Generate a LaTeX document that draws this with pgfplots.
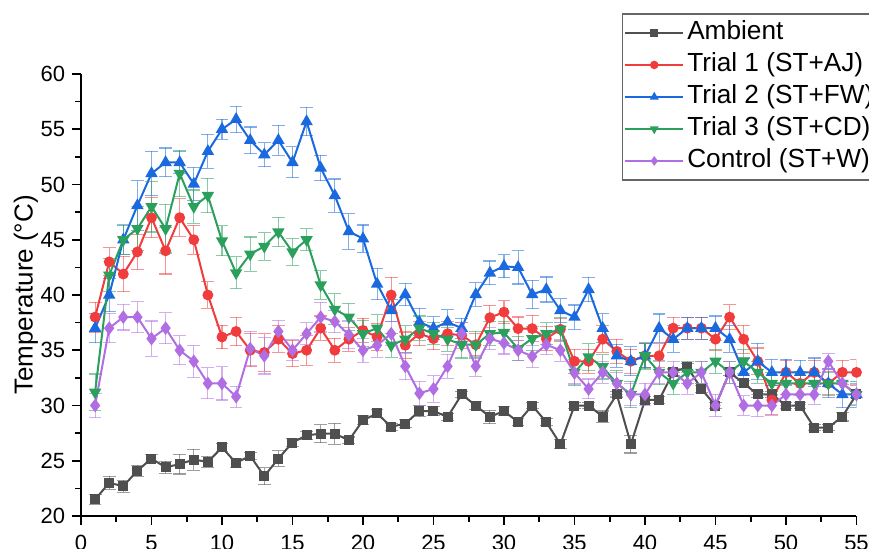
\documentclass[border=0pt]{standalone}
\usepackage{pgfplots}
\usepackage{pgfplotstable}
\pgfplotsset{compat=1.18}
\usepackage{fontspec}
\setmainfont{Liberation Sans}
\definecolor{cAmb}{HTML}{4F4F4F}
\definecolor{cRed}{HTML}{F03C3C}
\definecolor{cBlue}{HTML}{1A69DE}
\definecolor{cGreen}{HTML}{2AA05C}
\definecolor{cPurp}{HTML}{B06EE2}

\pgfplotstableread{
x y e
1 21.5 0.45
2 23.0 0.6
3 22.7 0.55
4 24.1 0.5
5 25.2 0.35
6 24.4 0.55
7 24.7 0.9
8 25.1 0.95
9 24.9 0.5
10 26.2 0.4
11 24.8 0.4
12 25.45 0.3
13 23.6 0.75
14 25.2 0.7
15 26.65 0.4
16 27.3 0.35
17 27.45 0.8
18 27.45 0.95
19 26.85 0.3
20 28.67 0.4
21 29.28 0.35
22 28.07 0.3
23 28.37 0.4
24 29.5 0.5
25 29.5 0.4
26 28.97 0.3
27 31.0 0.3
28 30.0 0.4
29 28.97 0.6
30 29.5 0.4
31 28.5 0.3
32 30.0 0.3
33 28.5 0.3
34 26.5 0.4
35 30.0 0.3
36 30.0 0.3
37 29.0 0.5
38 31.0 0.3
39 26.5 0.8
40 30.5 0.3
41 30.5 0.3
42 33.0 0.3
43 33.5 0.3
44 31.5 0.3
45 30.0 0.3
46 33.0 0.3
47 32.0 0.3
48 31.0 0.3
49 31.0 0.3
50 30.0 0.3
51 30.0 0.3
52 28.0 0.3
53 28.0 0.3
54 29.0 0.4
55 31.0 0.3
}\tAmb

\pgfplotstableread{
x y e
1 38.0 1.35
2 43.0 1.27
3 41.9 1.6
4 43.9 1.6
5 47.0 1.8
6 44.0 2.1
7 47.0 1.7
8 45.0 1.3
9 40.0 1.2
10 36.2 1.05
11 36.7 1.3
12 35.0 1.5
13 34.8 1.7
14 36.0 1.2
15 34.7 1.2
16 35.0 1.35
17 37.0 1.1
18 35.0 1.1
19 36.0 1.1
20 36.8 1.1
21 36.2 1.2
22 40.0 1.6
23 35.45 1.2
24 36.5 1.1
25 36.05 1.0
26 36.5 1.1
27 36.35 1.2
28 35.5 1.0
29 37.95 1.13
30 38.45 1.05
31 36.96 1.05
32 36.96 1.2
33 36.05 1.1
34 36.9 1.0
35 34.0 1.1
36 34.0 1.1
37 36.0 1.2
38 34.9 1.1
39 34.0 1.1
40 34.5 1.1
41 34.5 1.1
42 37.0 1.0
43 37.0 1.0
44 37.0 1.0
45 36.0 1.0
46 38.0 1.14
47 36.0 1.28
48 34.0 1.2
49 30.5 1.28
50 33.0 1.1
51 32.0 1.1
52 33.0 1.1
53 32.0 1.1
54 33.0 1.1
55 33.0 1.16
}\tRed

\pgfplotstableread{
x y e
1 37.0 1.3
2 40.0 1.5
3 45.0 1.3
4 48.1 2.25
5 51.0 2.0
6 52.0 1.3
7 52.0 1.0
8 50.05 1.5
9 53.0 1.55
10 55.0 0.9
11 55.9 1.2
12 54.0 1.2
13 52.7 1.1
14 54.0 1.35
15 52.0 1.4
16 55.7 1.3
17 51.5 1.15
18 49.0 1.5
19 45.75 1.6
20 45.1 1.24
21 41.0 1.43
22 38.6 1.0
23 40.05 1.0
24 37.55 1.24
25 37.0 1.05
26 37.55 1.13
27 37.0 0.9
28 40.05 1.05
29 42.0 1.08
30 42.6 1.04
31 42.5 1.5
32 40.05 1.28
33 40.5 1.13
34 38.6 1.05
35 38.0 1.1
36 40.5 1.1
37 37.0 1.3
38 34.5 1.05
39 34.0 1.3
40 34.5 1.1
41 37.0 1.28
42 36.0 1.2
43 37.0 1.0
44 37.0 1.0
45 37.0 1.1
46 36.0 1.2
47 33.0 1.3
48 34.0 1.65
49 33.0 1.2
50 33.0 1.2
51 33.0 1.1
52 33.0 1.3
53 32.0 1.3
54 31.0 1.2
55 31.0 1.2
}\tBlue

\pgfplotstableread{
x y e
1 31.2 1.65
2 41.8 1.5
3 45.0 1.35
4 46.0 2.0
5 48.0 2.3
6 46.0 2.2
7 51.0 2.1
8 48.0 1.5
9 49.0 1.55
10 44.9 1.35
11 42.0 1.45
12 43.7 1.55
13 44.4 1.25
14 45.7 1.35
15 43.9 1.2
16 45.0 1.0
17 40.9 1.3
18 38.7 1.4
19 38.0 1.25
20 36.5 1.2
21 37.0 1.2
22 35.45 1.1
23 36.0 1.2
24 37.0 1.1
25 36.5 1.0
26 36.0 1.1
27 35.5 1.2
28 35.5 1.2
29 36.5 1.1
30 36.6 1.0
31 35.15 1.1
32 36.05 1.1
33 36.5 1.0
34 36.9 1.1
35 33.0 1.2
36 34.4 1.2
37 33.5 1.1
38 32.0 1.2
39 31.0 1.2
40 34.5 1.2
41 33.0 1.1
42 32.0 1.0
43 33.0 1.0
44 33.0 1.0
45 34.0 1.1
46 33.0 1.0
47 34.0 1.1
48 33.0 1.0
49 32.0 1.0
50 32.0 1.0
51 32.0 1.0
52 32.0 1.0
53 32.0 1.0
54 32.0 1.0
55 31.0 1.0
}\tGreen

\pgfplotstableread{
x y e
1 30.0 1.1
2 37.0 1.33
3 38.0 1.17
4 38.0 1.4
5 36.05 1.6
6 37.0 1.4
7 35.0 1.3
8 34.0 1.45
9 32.0 1.4
10 32.0 1.5
11 30.8 0.95
12 35.15 1.55
13 34.5 1.65
14 36.7 1.0
15 35.0 0.95
16 36.5 1.0
17 38.0 1.35
18 37.6 1.0
19 36.4 1.25
20 35.0 1.1
21 35.45 1.1
22 36.5 1.1
23 33.55 1.2
24 31.1 1.1
25 31.5 1.2
26 33.55 1.1
27 36.5 1.0
28 33.55 0.9
29 36.05 1.0
30 35.66 1.0
31 35.0 0.9
32 34.45 1.0
33 35.5 0.9
34 35.0 1.0
35 32.95 1.0
36 31.5 0.9
37 33.0 1.0
38 32.0 1.0
39 31.0 1.0
40 31.0 1.0
41 33.0 1.0
42 33.0 1.0
43 32.0 1.0
44 33.0 1.0
45 30.0 1.0
46 33.0 1.0
47 30.0 0.9
48 30.0 1.0
49 30.0 0.9
50 31.0 1.0
51 31.0 0.9
52 31.0 0.9
53 34.0 0.7
54 32.0 1.0
55 31.0 0.9
}\tPurp

\begin{document}
\begin{tikzpicture}
\begin{axis}[
  name=ax,
  scale only axis,
  width=387.75pt, height=221pt,
  xmin=0, xmax=55, ymin=20, ymax=60,
  xtick={0,5,...,55}, ytick={20,25,...,60},
  minor x tick num=1, minor y tick num=1,
  axis lines=left,
  x axis line style={-, line width=0.8pt},
  y axis line style={-, line width=0.8pt},
  tick align=outside,
  major tick length=4.4pt, minor tick length=2.8pt,
  every tick/.style={black, line width=0.8pt},
  /pgf/number format/assume math mode=true,
  tick label style={font=\fontsize{11}{13}\selectfont},
  xticklabel style={yshift=-1.5pt},
  ylabel={Temperature (°C)},
  ylabel style={font=\fontsize{13}{15}\selectfont, at={(axis description cs:-0.0712,0.5)}, anchor=center},
  legend cell align=left,
  legend style={at={(axis description cs:0.6972,1.1372)}, anchor=north west,
    draw=black!60, line width=0.6pt, inner xsep=1pt, inner ysep=1.5pt, row sep=0pt,
    font=\fontsize{13.1}{15}\selectfont,
    nodes={inner sep=1.5pt, text height=9.8pt, text depth=3.2pt}},
  legend image code/.code={
    \draw[mark repeat=2,mark phase=2,#1,mark size=1.6pt] plot coordinates {(0pt,0pt) (14.5pt,0pt) (29pt,0pt)};
  },
  error bars/y dir=both, error bars/y explicit,
  error bars/error bar style={line width=0.55pt, opacity=0.55},
  error bars/error mark options={rotate=90, mark size=3.2pt, line width=0.55pt, opacity=0.55},
]
\addplot[cAmb, line width=1pt, mark=square*, mark size=2pt] table[x=x, y=y, y error=e] {\tAmb};
\addlegendentry{Ambient}
\addplot[cRed, line width=1pt, mark=*, mark size=2.2pt] table[x=x, y=y, y error=e] {\tRed};
\addlegendentry{Trial 1 (ST+AJ)}
\addplot[cBlue, line width=1pt, mark=triangle*, mark size=2.6pt] table[x=x, y=y, y error=e] {\tBlue};
\addlegendentry{Trial 2 (ST+FW)}
\addplot[cGreen, line width=1pt, mark=triangle*, mark size=2.6pt, mark options={rotate=180}] table[x=x, y=y, y error=e] {\tGreen};
\addlegendentry{Trial 3 (ST+CD)}
\addplot[cPurp, line width=1pt, mark=diamond*, mark size=2.6pt] table[x=x, y=y, y error=e] {\tPurp};
\addlegendentry{Control (ST+W)}
\end{axis}
\pgfresetboundingbox
\path[use as bounding box] ([shift={(-40.5pt,-16pt)}]ax.south west) rectangle ([shift={(394pt,258pt)}]ax.south west);
\end{tikzpicture}
\end{document}
